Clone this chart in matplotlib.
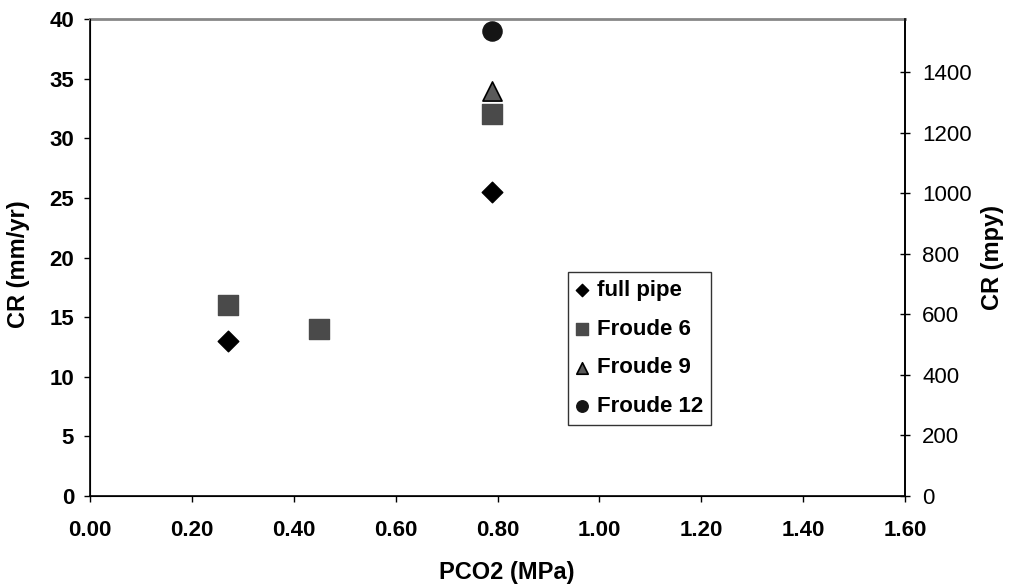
import matplotlib
matplotlib.use("Agg")
import matplotlib.pyplot as plt

plt.rcParams["font.family"] = ["Liberation Sans", "DejaVu Sans"]

# data: PCO2 (MPa) vs corrosion rate (mm/yr)
full_pipe_x = [0.27, 0.79]
full_pipe_y = [13.0, 25.5]
froude6_x = [0.27, 0.45, 0.79]
froude6_y = [16.0, 14.0, 32.0]
froude9_x = [0.79]
froude9_y = [34.0]
froude12_x = [0.79]
froude12_y = [39.0]

MM_TO_MPY = 39.37
W, H = 1011, 587

fig = plt.figure(figsize=(W / 100, H / 100), dpi=100)
ax = fig.add_axes([90 / W, 1 - 496 / H, 815 / W, 477 / H])

ax.scatter(full_pipe_x, full_pipe_y, marker="D", s=110, color="black",
           label="full pipe", zorder=3)
ax.scatter(froude6_x, froude6_y, marker="s", s=190, color="#4a4a4a",
           label="Froude 6", zorder=3)
ax.scatter(froude9_x, froude9_y, marker="^", s=190, color="#5a5a5a",
           edgecolors="black", linewidths=1.2, label="Froude 9", zorder=3)
ax.scatter(froude12_x, froude12_y, marker="o", s=190, color="#151515",
           label="Froude 12", zorder=3)

ax.set_xlim(0, 1.6)
ax.set_ylim(0, 40)
ax.set_xticks([0.0, 0.2, 0.4, 0.6, 0.8, 1.0, 1.2, 1.4, 1.6])
ax.set_xticklabels([f"{v:.2f}" for v in ax.get_xticks()])
ax.set_yticks(range(0, 41, 5))
ax.tick_params(direction="out", length=4.5, width=1, labelsize=16)
ax.tick_params(axis="x", pad=13)
ax.tick_params(axis="y", pad=7)
for lab in ax.get_xticklabels() + ax.get_yticklabels():
    lab.set_fontweight("bold")

ax.spines["top"].set_color("#888888")
ax.spines["top"].set_linewidth(2)
for s in ("left", "bottom", "right"):
    ax.spines[s].set_linewidth(1.2)

ax.set_xlabel("PCO2 (MPa)", fontsize=17, fontweight="bold")
ax.xaxis.set_label_coords(507 / W, 1 - 572 / H, transform=fig.transFigure)
ax.xaxis.label.set_va("center")
ax.set_ylabel("CR (mm/yr)", fontsize=17, fontweight="bold")
ax.yaxis.set_label_coords(19 / W, 1 - 264 / H, transform=fig.transFigure)
ax.yaxis.label.set_va("center")

ax2 = ax.twinx()
ax2.set_ylim(0, 40 * MM_TO_MPY)
ax2.set_yticks(range(0, 1401, 200))
ax2.tick_params(direction="inout", length=6.5, width=1, labelsize=16, pad=9)
ax2.spines["top"].set_visible(False)
ax2.spines["right"].set_linewidth(1.2)
ax2.set_ylabel("CR (mpy)", fontsize=17, fontweight="bold")
ax2.yaxis.set_label_coords(993 / W, 1 - 257 / H, transform=fig.transFigure)
ax2.yaxis.label.set_va("center")

leg = ax.legend(loc="upper left", bbox_to_anchor=(568 / W, 1 - 272 / H),
                bbox_transform=fig.transFigure, frameon=True, fancybox=False,
                prop={"size": 16, "weight": "bold"}, handletextpad=0.36,
                labelspacing=0.8, borderpad=0.35, borderaxespad=0,
                handlelength=0.6, markerscale=0.6)
leg.get_frame().set_edgecolor("black")
leg.get_frame().set_linewidth(1.0)

fig.savefig("out.png", dpi=100)
